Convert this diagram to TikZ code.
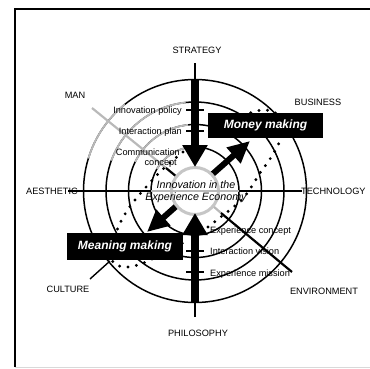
\documentclass[tikz,border=0pt]{standalone}
\usepackage{fontspec}
\setmainfont{Liberation Sans}
\usetikzlibrary{arrows.meta}
\begin{document}
\begin{tikzpicture}[x=1pt,y=-1pt,
  lbl/.style={font=\fontsize{9.2}{10.5}\selectfont, inner sep=0pt},
  bigbox/.style={fill=black, text=white, font=\fontsize{12}{14}\bfseries\itshape\selectfont, inner sep=0pt},
  ring/.style={line width=1.5pt},
  grayring/.style={line width=1.8pt, draw=gray!55},
  axisline/.style={line width=1.4pt},
  grayaxis/.style={line width=1.8pt, draw=gray!55},
  dotline/.style={line width=3.2pt, dash pattern=on 0pt off 8.5pt, line cap=round},
  tickline/.style={line width=1.3pt},
  bigarrow/.style={line width=8pt, -{Triangle[length=22pt,width=24pt]}},
  diagarrow/.style={line width=6pt, {Triangle[length=22pt,width=20pt]}-{Triangle[length=22pt,width=20pt]}},
]
\useasboundingbox (0,0) rectangle (370,368);
% frame
\draw[line width=1.5pt] (15,367) -- (15,9) -- (372,9);
\draw[gray!30, line width=0.8pt] (15,367) -- (372,367);

\coordinate (c) at (195,191);
% rings
\foreach \r in {44,66.5,89,111.5} \draw[ring] (c) circle[radius=\r];
% gray sectors
\draw[grayring] (c) ++(-163:111.5) arc[start angle=-163,end angle=-129,radius=111.5];
\draw[grayring] (c) ++(-160:89) arc[start angle=-160,end angle=-96,radius=89];
\draw[grayring] (c) ++(-154:66.5) arc[start angle=-154,end angle=-96,radius=66.5];
\draw[grayring] (c) ++(-150:44) arc[start angle=-150,end angle=-100,radius=44];

% horizontal axis
\coordinate (hL) at (68,191);
\coordinate (hLi) at (151,191);
\coordinate (hRi) at (239,191);
\coordinate (hR) at (302,191);
\draw[axisline] (hL) -- (hLi);
\draw[axisline] (hRi) -- (hR);

% MAN - ENVIRONMENT line
\coordinate (man1) at (92,108);
\coordinate (man2) at (166,168);
\coordinate (man3) at (177,177);
\coordinate (env1) at (213,206);
\coordinate (env2) at (221,213);
\coordinate (env3) at (292,272);
\draw[grayaxis, line width=2.2pt] (man1) -- (man2);
\draw[line width=2.2pt] (man2) -- (man3);
\draw[grayaxis, line width=2.2pt] (env1) -- (env2);
\draw[line width=2.2pt] (env2) -- (env3);

% culture line
\coordinate (cul1) at (110,261);
\coordinate (cul2) at (90,279);
\draw[axisline] (cul1) -- (cul2);

% dotted curves
\draw[dotline] plot[smooth, tension=0.6] coordinates {(183,152) (172,161) (160,172) (147,186) (135,200) (125,214) (117,230) (111,248) (113,262) (124,267) (138,265) (152,259) (170,250) (188,240)};
\draw[dotline] plot[smooth, tension=0.6] coordinates {(208,227) (222,216) (236,205) (245,196) (252,186) (260,173) (270,159) (279,143) (283,128) (278,115) (266,110) (250,113) (232,122) (212,134)};

% diagonal arrow
\coordinate (mmtip) at (147,232);
\coordinate (motip) at (250,141);
\draw[diagarrow] (mmtip) -- (motip);

% central gray circle
\draw[line width=3pt, draw=gray!45, fill=white] (c) circle[radius=23.5];
\draw[grayaxis, line width=1.4pt] (hLi) -- (hRi);

% center text
\node[align=center, font=\fontsize{10.7}{12}\itshape\selectfont, inner sep=0pt] (centre) at (196,191.5) {Innovation in the\\Experience Economy};

% vertical arrows
\coordinate (stTop) at (195,63);
\coordinate (stStart) at (195,80);
\coordinate (stTip) at (195,167);
\draw[axisline] (stTop) -- (stStart);
\draw[bigarrow] (stStart) -- (stTip);
\coordinate (phBot) at (195,317);
\coordinate (phStart) at (195,302);
\coordinate (phTip) at (195,213);
\draw[axisline] (phBot) -- (phStart);
\draw[bigarrow] (phStart) -- (phTip);

% ticks
\foreach \yy in {110,131,251,272} \draw[tickline] (186,\yy) -- (204,\yy);

% ring labels
\node[lbl, anchor=base east] (ip) at (182,113.5) {Innovation policy};
\node[lbl, anchor=base east] (iplan) at (182,134.5) {Interaction plan};
\node[lbl, anchor=base east] (comm) at (180,155.5) {Communication};
\node[lbl, anchor=base east] (conc) at (177,165.5) {concept};
\node[lbl, anchor=base west] (ec) at (210,233) {Experience concept};
\node[lbl, anchor=base west] (iv) at (210,254.5) {Interaction vision};
\node[lbl, anchor=base west] (em) at (210,276) {Experience mission};

% axis labels
\node[lbl] (strategy) at (197,50) {STRATEGY};
\node[lbl] (business) at (318,102) {BUSINESS};
\node[lbl, anchor=west] (technology) at (301,191) {TECHNOLOGY};
\node[lbl] (environment) at (324,291) {ENVIRONMENT};
\node[lbl] (philosophy) at (198,333) {PHILOSOPHY};
\node[lbl] (culture) at (68,289) {CULTURE};
\node[lbl] (aesthetic) at (52,191) {AESTHETIC};
\node[lbl] (man) at (75,95) {MAN};

% boxes
\node[bigbox, minimum width=115pt, minimum height=25pt] (money) at (265.5,125.5) {Money making};
\node[bigbox, minimum width=116pt, minimum height=27pt] (meaning) at (125,246.5) {Meaning making};
\end{tikzpicture}
\end{document}
